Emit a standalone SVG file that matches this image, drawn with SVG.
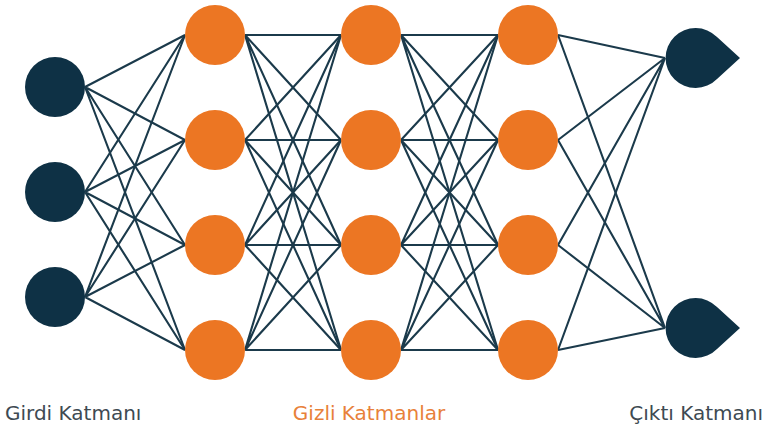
<svg xmlns="http://www.w3.org/2000/svg" width="766" height="430" viewBox="0 0 766 430">
  <style>
    .edge { stroke: #1b3a4b; stroke-width: 2.1; fill: none; }
    .in { fill: #0e3145; }
    .hid { fill: #ec7623; }
    .out { fill: #0e3145; }
    .lbl { font-family: "DejaVu Sans", Verdana, sans-serif; font-size: 20px; }
    .dark { fill: #3e4a52; }
    .orange { fill: #e8813a; }
  </style>
  <rect width="766" height="430" fill="#ffffff"/>

  <!-- connectors: every node links to every node in the next layer -->
  <g id="connectors" class="edge">
    <!-- input -> hidden 1 -->
    <path d="M85 87L185 35M85 87L185 140M85 87L185 245M85 87L185 350"/>
    <path d="M85 192L185 35M85 192L185 140M85 192L185 245M85 192L185 350"/>
    <path d="M85 297L185 35M85 297L185 140M85 297L185 245M85 297L185 350"/>
    <!-- hidden 1 -> hidden 2 -->
    <path d="M245 35L341 35M245 35L341 140M245 35L341 245M245 35L341 350"/>
    <path d="M245 140L341 35M245 140L341 140M245 140L341 245M245 140L341 350"/>
    <path d="M245 245L341 35M245 245L341 140M245 245L341 245M245 245L341 350"/>
    <path d="M245 350L341 35M245 350L341 140M245 350L341 245M245 350L341 350"/>
    <!-- hidden 2 -> hidden 3 -->
    <path d="M401 35L498 35M401 35L498 140M401 35L498 245M401 35L498 350"/>
    <path d="M401 140L498 35M401 140L498 140M401 140L498 245M401 140L498 350"/>
    <path d="M401 245L498 35M401 245L498 140M401 245L498 245M401 245L498 350"/>
    <path d="M401 350L498 35M401 350L498 140M401 350L498 245M401 350L498 350"/>
    <!-- hidden 3 -> output -->
    <path d="M558 35L665 58M558 140L665 58M558 245L665 58M558 350L665 58"/>
    <path d="M558 35L665 328M558 140L665 328M558 245L665 328M558 350L665 328"/>
  </g>

  <!-- input layer -->
  <g id="input-1"><circle class="in" cx="55" cy="87" r="30"/></g>
  <g id="input-2"><circle class="in" cx="55" cy="192" r="30"/></g>
  <g id="input-3"><circle class="in" cx="55" cy="297" r="30"/></g>

  <!-- hidden layer 1 -->
  <g id="h1-1"><circle class="hid" cx="215" cy="35" r="30"/></g>
  <g id="h1-2"><circle class="hid" cx="215" cy="140" r="30"/></g>
  <g id="h1-3"><circle class="hid" cx="215" cy="245" r="30"/></g>
  <g id="h1-4"><circle class="hid" cx="215" cy="350" r="30"/></g>

  <!-- hidden layer 2 -->
  <g id="h2-1"><circle class="hid" cx="371" cy="35" r="30"/></g>
  <g id="h2-2"><circle class="hid" cx="371" cy="140" r="30"/></g>
  <g id="h2-3"><circle class="hid" cx="371" cy="245" r="30"/></g>
  <g id="h2-4"><circle class="hid" cx="371" cy="350" r="30"/></g>

  <!-- hidden layer 3 -->
  <g id="h3-1"><circle class="hid" cx="528" cy="35" r="30"/></g>
  <g id="h3-2"><circle class="hid" cx="528" cy="140" r="30"/></g>
  <g id="h3-3"><circle class="hid" cx="528" cy="245" r="30"/></g>
  <g id="h3-4"><circle class="hid" cx="528" cy="350" r="30"/></g>

  <!-- output layer: teardrop nodes pointing right -->
  <g id="output-1">
    <path class="out" d="M717 37L740 58L717 79A30 30 0 1 1 717 37Z"/>
  </g>
  <g id="output-2">
    <path class="out" d="M717 307L740 328L717 349A30 30 0 1 1 717 307Z"/>
  </g>

  <!-- layer captions -->
  <g id="labels" class="lbl">
    <text class="dark" x="5" y="420">Girdi Katmanı</text>
    <text class="orange" x="369" y="420" text-anchor="middle">Gizli Katmanlar</text>
    <text class="dark" x="763" y="420" text-anchor="end">Çıktı Katmanı</text>
  </g>
</svg>
